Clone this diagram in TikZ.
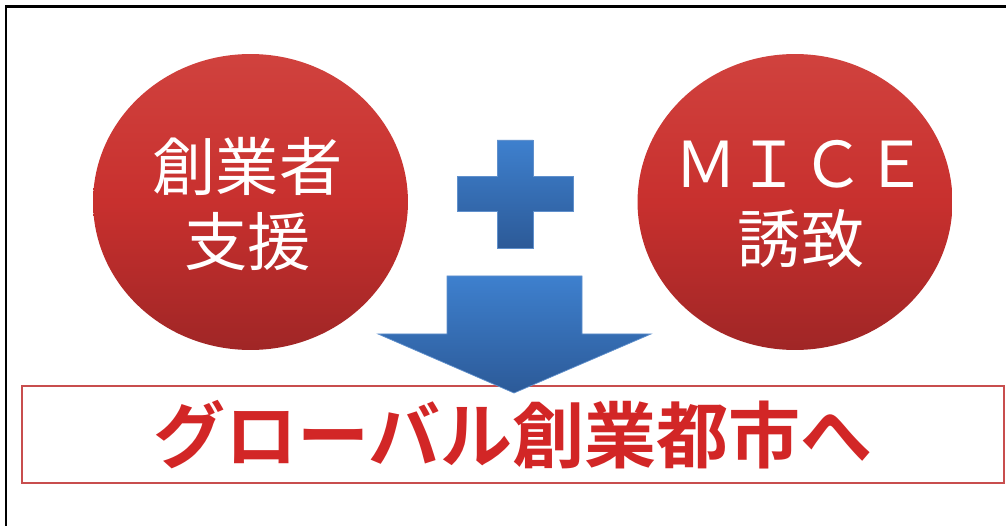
\documentclass[tikz,border=0pt]{standalone}
\usepackage{fontspec}
\usetikzlibrary{calc,shapes.geometric}
\newfontfamily\cjk{Noto Sans CJK JP}[BoldFont={Noto Sans CJK JP Bold}]
\definecolor{balltop}{RGB}{208,66,62}
\definecolor{ballmid}{RGB}{200,48,46}
\definecolor{ballbot}{RGB}{160,38,38}
\definecolor{bluetop}{RGB}{62,128,206}
\definecolor{bluebot}{RGB}{44,90,152}
\definecolor{blueedge}{RGB}{96,144,204}
\definecolor{boxred}{RGB}{200,78,78}
\definecolor{goalred}{RGB}{210,38,38}
\def\redball{\node[ellipse,minimum width=6.3cm,minimum height=5.92cm,top color=balltop,bottom color=ballbot,middle color=ballmid]}
\def\balltext{\node[text=white,align=center,font=\cjk\fontsize{36}{43}\selectfont]}
\def\shadeblue{\shade[top color=bluetop,bottom color=bluebot,draw=blueedge,line width=0.4pt]}

\begin{document}
\begin{tikzpicture}[x=0.02cm,y=-0.02cm,inner sep=0pt]
\useasboundingbox (0,0) rectangle (1006,526);
\draw[line width=0.06cm] (6,526) |- (1006,7); % frame, cut off on the right and at the bottom

% -------- the two balls ---------
\redball (founders) at (250.5,202) {};
\redball (mice) at (795,202) {};
\balltext (founders_text) at ($ (founders) + (-3,2) $) {創業者\\支援};
\balltext (mice_text) at ($ (mice) + (6,2) $) {ＭＩＣＥ\\誘致};

% -------- plus ---------
% everything relative to the middle of the cross (p)
\coordinate (p) at (515,194);
\shadeblue ($ (p) + (-58,-17.5) $) -- ($ (p) + (-18,-17.5) $) -- ($ (p) + (-18,-54) $)
  -- ($ (p) + (18,-54) $) -- ($ (p) + (18,-17.5) $) -- ($ (p) + (58,-17.5) $)
  -- ($ (p) + (58,17.5) $) -- ($ (p) + (18,17.5) $) -- ($ (p) + (18,54) $)
  -- ($ (p) + (-18,54) $) -- ($ (p) + (-18,17.5) $) -- ($ (p) + (-58,17.5) $) -- cycle;
% ------ end plus ------

% -------- goal box ---------
\node[draw=boxred,line width=0.04cm,minimum width=19.64cm,minimum height=1.94cm,
  text=goalred,font=\cjk\bfseries\fontsize{41}{41}\selectfont] (goal) at (513,434.5) {グローバル創業都市へ};

% -------- down arrow ---------
% relative to the top middle of the shaft (a); it sits on the goal box
\coordinate (a) at (514,276);
\shadeblue ($ (a) + (-67,0) $) -- ($ (a) + (68,0) $) -- ($ (a) + (68,58) $)
  -- ($ (a) + (137,58) $) -- ($ (a) + (0,117) $) -- ($ (a) + (-136,58) $)
  -- ($ (a) + (-67,58) $) -- cycle;
% ------ end arrow ------
\end{tikzpicture}
\end{document}
